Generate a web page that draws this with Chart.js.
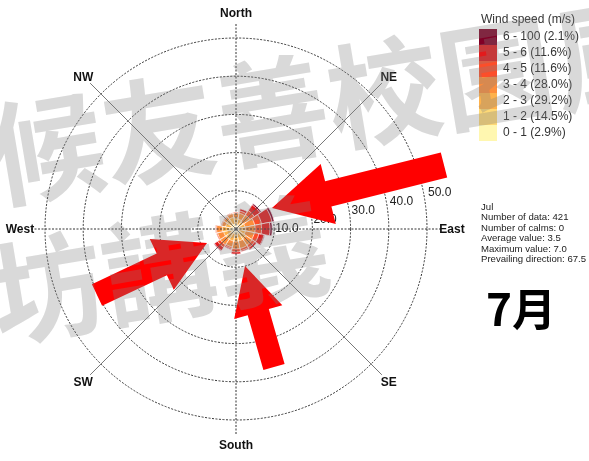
<!DOCTYPE html>
<html>
<head>
<meta charset="utf-8">
<script src="https://cdn.jsdelivr.net/npm/chart.js@4"></script>
<style>
html,body{margin:0;padding:0;background:#fff;}
#wrap{position:relative;width:589px;height:461px;overflow:hidden;background:#fff;}
#c{position:absolute;left:0;top:0;}
#arrows{position:absolute;left:0;top:0;}
.wm{position:absolute;left:0;top:0;font-family:"Noto Sans CJK TC","Noto Sans CJK SC",sans-serif;font-size:114px;line-height:114px;font-weight:bold;color:rgba(128,128,128,0.30);white-space:nowrap;transform-origin:0 0;}
#month{position:absolute;left:486px;top:285px;font-family:"Noto Sans CJK TC","Noto Sans CJK SC",sans-serif;font-size:44px;line-height:44px;font-weight:bold;color:#000;white-space:nowrap;}
</style>
</head>
<body>
<div id="wrap">
<canvas id="c" width="589" height="461"></canvas>
<svg id="arrows" width="589" height="461"></svg>
<div class="wm" id="wm1">候友善校園風</div>
<div class="wm" id="wm2">坊講義</div>
<div id="month">7月</div>
</div>
<script>
// ---- data ----
const directions = ['N','NNE','NE','ENE','E','ESE','SE','SSE','S','SSW','SW','WSW','W','WNW','NW','NNW'];
const speedClasses = ['0 - 1','1 - 2','2 - 3','3 - 4','4 - 5','5 - 6','6 - 100'];
const classPercent = [2.9, 14.5, 29.2, 28.0, 11.6, 11.6, 2.1];
const classColors = ['#fff7b0','#fed976','#feb24c','#fd8d3c','#fc4e2a','#e31a1c','#800026'];
// frequency (%) per direction for each speed class
const speed0_1   = [0.2,0.2,0.1,0.1,0.1,0.1,0.2,0.2,0.2,0.2,0.2,0.2,0.3,0.2,0.2,0.2];
const speed1_2   = [1.0,0.8,0.6,0.5,0.5,0.6,0.9,1.0,1.0,1.0,1.0,1.1,1.3,1.0,1.1,1.1];
const speed2_3   = [1.7,1.6,1.5,1.8,1.8,1.8,2.0,2.0,2.0,2.0,2.0,2.0,2.0,1.6,1.6,1.8];
const speed3_4   = [1.2,1.6,2.2,2.6,2.6,2.4,2.0,2.0,2.0,1.6,1.8,1.6,1.5,1.0,0.9,1.0];
const speed4_5   = [0.3,0.6,1.4,1.8,1.7,1.2,0.8,0.6,0.8,0.4,0.8,0.3,0.3,0.2,0.2,0.2];
const speed5_6   = [0.0,0.6,1.8,2.8,2.2,1.4,0.6,0.3,0.6,0.3,1.0,0.0,0.0,0.0,0.0,0.0];
const speed6_100 = [0.0,0.0,0.4,0.6,0.6,0.2,0.0,0.0,0.1,0.0,0.2,0.0,0.0,0.0,0.0,0.0];
const ringTicks = [10, 20, 30, 40, 50];
const compassLabels = ['North','NE','East','SE','South','SW','West','NW'];
const compassBearings = [0,45,90,135,180,225,270,315];
const legendTitle = 'Wind speed (m/s)';
const statsLines = ['Jul','Number of data: 421','Number of calms: 0','Average value: 3.5','Maximum value: 7.0','Prevailing direction: 67.5'];

// ---- build stacked (cumulative) datasets ----
const classSeries = [speed0_1, speed1_2, speed2_3, speed3_4, speed4_5, speed5_6, speed6_100];
const cumulative = [];
classSeries.forEach((s, i) => {
  cumulative.push(s.map((v, d) => +(v + (i ? cumulative[i-1][d] : 0)).toFixed(2)));
});
const datasets = classSeries.map((s, i) => ({
  label: speedClasses[i],
  data: cumulative[i],
  backgroundColor: classColors[i],
  borderColor: 'rgba(255,255,255,0.9)',
  borderWidth: 0.8
}));

const FONT = '"Liberation Sans", Arial, sans-serif';

const decor = {
  id: 'decor',
  afterDatasetsDraw(chart) {
    const ctx = chart.ctx;
    const sc = chart.scales.r;
    const cx = sc.xCenter, cy = sc.yCenter, R = sc.drawingArea;
    ctx.save();
    // direction lines
    const lineR = R * 1.08;
    compassBearings.forEach((b) => {
      const a = (b - 90) * Math.PI / 180;
      ctx.beginPath();
      if (b % 90 === 0) {
        ctx.setLineDash([2, 1.5]);
        ctx.strokeStyle = '#333';
        ctx.lineWidth = 1;
      } else {
        ctx.setLineDash([]);
        ctx.strokeStyle = '#555';
        ctx.lineWidth = 0.8;
      }
      ctx.moveTo(cx, cy);
      ctx.lineTo(cx + Math.cos(a) * lineR, cy + Math.sin(a) * lineR);
      ctx.stroke();
    });
    ctx.setLineDash([]);
    // compass labels
    ctx.font = 'bold 12px ' + FONT;
    ctx.fillStyle = '#111';
    ctx.textAlign = 'center';
    ctx.textBaseline = 'middle';
    const labR = R * 1.131;
    compassLabels.forEach((t, i) => {
      const a = (compassBearings[i] - 90) * Math.PI / 180;
      ctx.fillText(t, cx + Math.cos(a) * labR, cy + Math.sin(a) * labR + 1);
    });
    // ring labels
    ctx.font = '12px ' + FONT;
    ctx.fillStyle = '#222';
    ctx.textAlign = 'left';
    ringTicks.forEach((v, k) => {
      const d = sc.getDistanceFromCenterForValue(v);
      ctx.fillText(v.toFixed(1), cx + d + 1, cy - k * 9);
    });
    // legend
    ctx.font = '12px ' + FONT;
    ctx.fillStyle = '#333';
    ctx.fillText(legendTitle, 481, 20);
    const n = speedClasses.length;
    for (let j = 0; j < n; j++) {
      const i = n - 1 - j;
      const y = 29 + j * 16;
      ctx.fillStyle = classColors[i];
      ctx.fillRect(479, y, 18, 16);
      ctx.fillStyle = '#333';
      ctx.fillText(speedClasses[i] + ' (' + classPercent[i].toFixed(1) + '%)', 503, y + 8);
    }
    // stats
    ctx.font = '9.6px ' + FONT;
    ctx.fillStyle = '#222';
    statsLines.forEach((t, i) => ctx.fillText(t, 481, 207 + i * 10.5));
    ctx.restore();
  }
};

new Chart(document.getElementById('c'), {
  type: 'polarArea',
  data: { labels: directions, datasets },
  options: {
    responsive: false,
    animation: false,
    layout: { padding: { left: 45, top: 38, right: 162, bottom: 41 } },
    plugins: { legend: { display: false }, tooltip: { enabled: false } },
    scales: {
      r: {
        min: 0, max: 50,
        startAngle: -11.25,
        ticks: { display: false, stepSize: 10 },
        grid: { display: true, circular: true, color: '#333', lineWidth: 1 },
        border: { dash: [2, 1.5] },
        angleLines: { display: false },
        pointLabels: { display: false }
      }
    }
  },
  plugins: [decor]
});

// ---- annotation arrows ----
const arrowSpecs = [
  { tail: [444, 165], tip: [272, 208], shaft: 26, head: 62, headLen: 58 },
  { tail: [97, 295],  tip: [207, 243], shaft: 24, head: 56, headLen: 50 },
  { tail: [274, 367], tip: [245, 266], shaft: 22, head: 50, headLen: 48 }
];
const svg = document.getElementById('arrows');
arrowSpecs.forEach(s => {
  const [tx, ty] = s.tail, [hx, hy] = s.tip;
  const L = Math.hypot(hx - tx, hy - ty);
  const ux = (hx - tx) / L, uy = (hy - ty) / L, px = -uy, py = ux;
  const bx = hx - ux * s.headLen, by = hy - uy * s.headLen;
  const sw = s.shaft / 2, hw = s.head / 2;
  const pts = [
    [tx + px * sw, ty + py * sw], [bx + px * sw, by + py * sw], [bx + px * hw, by + py * hw],
    [hx, hy], [bx - px * hw, by - py * hw], [bx - px * sw, by - py * sw], [tx - px * sw, ty - py * sw]
  ];
  const poly = document.createElementNS('http://www.w3.org/2000/svg', 'polygon');
  poly.setAttribute('points', pts.map(p => p[0].toFixed(1) + ',' + p[1].toFixed(1)).join(' '));
  poly.setAttribute('fill', '#ff0000');
  svg.appendChild(poly);
});

// ---- watermark placement ----
document.getElementById('wm1').style.transform = 'translate(-20px,96px) rotate(-9.5deg)';
document.getElementById('wm2').style.transform = 'translate(-20px,236px) rotate(-9.5deg)';
</script>
</body>
</html>
